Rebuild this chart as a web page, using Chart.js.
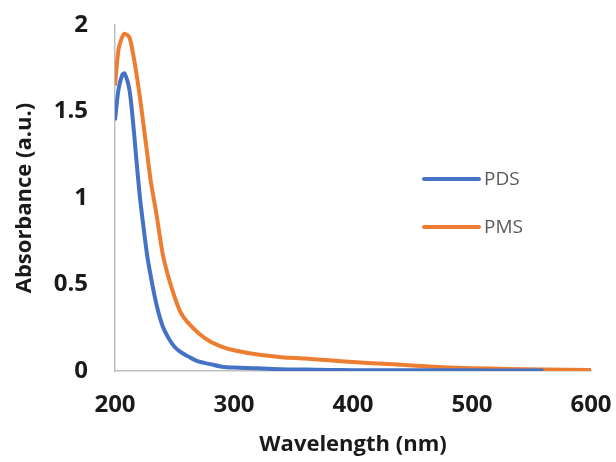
<!DOCTYPE html>
<html>
<head>
<meta charset="utf-8">
<script src="https://cdn.jsdelivr.net/npm/chart.js@4"></script>
<style>
  body { margin: 0; background: #fff; }
  #wrap { width: 616px; height: 462px; }
</style>
</head>
<body>
<div id="wrap"><canvas id="uv"></canvas></div>
<script>
// wavelengths (nm)
const wavelengths = [200, 203, 206, 208, 212, 215, 218, 221, 224, 227, 230, 235, 240, 245, 250, 255, 260, 270, 280, 290, 300, 320, 340, 360, 380, 400, 425, 450, 475, 500, 530, 560, 600];

// absorbance values
const pdsValues = [1.45, 1.63, 1.71, 1.72, 1.63, 1.45, 1.22, 1.00, 0.83, 0.67, 0.55, 0.38, 0.26, 0.19, 0.14, 0.11, 0.09, 0.055, 0.04, 0.025, 0.02, 0.016, 0.01, 0.008, 0.006, 0.005, 0.005, 0.004, 0.004, 0.004, 0.003, 0.003, null];
const pmsValues = [1.65, 1.86, 1.93, 1.95, 1.93, 1.84, 1.72, 1.58, 1.42, 1.26, 1.10, 0.90, 0.68, 0.54, 0.43, 0.34, 0.29, 0.22, 0.17, 0.14, 0.12, 0.095, 0.08, 0.072, 0.062, 0.052, 0.042, 0.032, 0.022, 0.016, 0.012, 0.008, 0.006];

const xTicks = [200, 300, 400, 500, 600];
const yTicks = [0, 0.5, 1, 1.5, 2];

const toPoints = (vals) => {
  return wavelengths.map((w, i) => ({ x: w, y: vals[i] })).filter((p) => p.y !== null);
};

// legend drawn inside the plot, like the original
const insideLegend = {
  id: "insideLegend",
  afterDraw(chart) {
    const ctx = chart.ctx;
    const rows = [179, 227];
    ctx.save();
    chart.data.datasets.forEach((ds, i) => {
      ctx.strokeStyle = ds.borderColor;
      ctx.lineWidth = 4;
      ctx.lineCap = "round";
      ctx.beginPath();
      ctx.moveTo(424, rows[i]);
      ctx.lineTo(479, rows[i]);
      ctx.stroke();
      ctx.fillStyle = "#595959";
      ctx.font = "19px 'Open Sans'";
      ctx.textBaseline = "middle";
      ctx.fillText(ds.label, 484, rows[i] + 1);
    });
    ctx.restore();
  },
};

new Chart(document.getElementById("uv"), {
  type: "line",
  data: {
    datasets: [
      {
        label: "PDS",
        data: toPoints(pdsValues),
        borderColor: "#4472C4",
        borderWidth: 4,
        pointRadius: 0,
        tension: 0.3,
      },
      {
        label: "PMS",
        data: toPoints(pmsValues),
        borderColor: "#ED7D31",
        borderWidth: 4,
        pointRadius: 0,
        tension: 0.3,
      },
    ],
  },
  options: {
    responsive: true,
    maintainAspectRatio: false,
    animation: false,
    layout: { padding: { top: 25, right: 25, left: 0, bottom: 0 } },
    plugins: {
      legend: { display: false },
      tooltip: { enabled: false },
    },
    scales: {
      x: {
        type: "linear",
        min: 200,
        max: 600,
        afterBuildTicks: (scale) => { scale.ticks = xTicks.map((v) => ({ value: v })); },
        afterFit: (scale) => {
          scale.height = 91;
          scale.paddingLeft = 0;
          scale.paddingRight = 0;
        },
        grid: { display: false, drawTicks: false },
        border: { display: true, color: "#bfbfbf", width: 1.5 },
        ticks: {
          padding: 20,
          color: "#1a1a1a",
          font: { family: "'Open Sans'", size: 24, weight: "bold" },
        },
        title: {
          display: true,
          text: "Wavelength (nm)",
          color: "#1a1a1a",
          font: { family: "'Open Sans'", size: 22, weight: "bold" },
          padding: { top: 4 },
        },
      },
      y: {
        min: 0,
        max: 2,
        afterBuildTicks: (scale) => { scale.ticks = yTicks.map((v) => ({ value: v })); },
        afterFit: (scale) => {
          scale.width = 115;
          scale.paddingTop = 0;
          scale.paddingBottom = 0;
        },
        grid: { display: false, drawTicks: false },
        border: { display: true, color: "#bfbfbf", width: 1.5 },
        ticks: {
          padding: 27,
          color: "#1a1a1a",
          font: { family: "'Open Sans'", size: 24, weight: "bold" },
          callback: (v) => String(v),
        },
        title: {
          display: true,
          text: "Absorbance (a.u.)",
          color: "#1a1a1a",
          font: { family: "'Open Sans'", size: 22, weight: "bold" },
          padding: { top: 12, bottom: 0 },
        },
      },
    },
  },
  plugins: [insideLegend],
});
</script>
</body>
</html>
